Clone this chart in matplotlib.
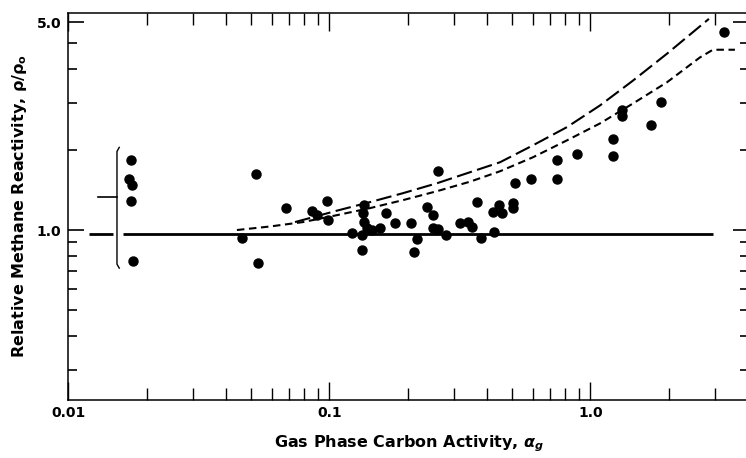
import matplotlib
matplotlib.use("Agg")
import matplotlib.pyplot as plt
from matplotlib.ticker import FixedLocator, FixedFormatter, NullFormatter

plt.rcParams["font.family"] = ["DejaVu Sans"]
plt.rcParams["font.weight"] = "bold"
plt.rcParams["mathtext.fontset"] = "dejavusans"

# measured reactivity vs. gas phase carbon activity
activity = [
    0.0173, 0.0171, 0.01755, 0.0173, 0.0177,
    0.0461, 0.0523, 0.0534, 0.0680, 0.0855, 0.0976, 0.0990, 0.0893,
    0.136, 0.1347, 0.1354, 0.1389, 0.1451, 0.1217, 0.1329, 0.1336,
    0.1562, 0.1642, 0.1782, 0.2047, 0.2159, 0.2108, 0.2358, 0.2485,
    0.2496, 0.2612, 0.2612, 0.2795, 0.3162, 0.3403, 0.3524, 0.3684,
    0.3796, 0.4269, 0.4242, 0.4473, 0.4568, 0.5035, 0.5035, 0.5137,
    0.5916, 0.7424, 0.7424, 0.8901, 1.216, 1.216, 1.317, 1.317,
    1.705, 1.862, 3.247,
]
reactivity = [
    1.824, 1.559, 1.472, 1.283, 0.766,
    0.931, 1.628, 0.755, 1.205, 1.177, 1.286, 1.090, 1.137,
    1.240, 1.154, 1.074, 1.015, 1.000, 0.972, 0.958, 0.842,
    1.015, 1.154, 1.065, 1.059, 0.923, 0.830, 1.215, 1.137,
    1.015, 1.006, 1.665, 0.958, 1.065, 1.074, 1.023, 1.275,
    0.931, 0.985, 1.170, 1.240, 1.154, 1.264, 1.205, 1.501,
    1.559, 1.824, 1.550, 1.921, 2.199, 1.888, 2.821, 2.663,
    2.480, 3.011, 5.495,
]

# model curves (short dash and long dash)
model_a_x = [0.0442, 0.0592, 0.0792, 0.1069, 0.1430, 0.1912, 0.2582, 0.3454,
             0.4502, 0.6021, 0.8128, 1.087, 1.455, 1.964, 2.628, 2.946, 3.578]
model_a_y = [1.0, 1.031, 1.071, 1.137, 1.208, 1.294, 1.398, 1.517,
             1.660, 1.873, 2.167, 2.507, 2.978, 3.576, 4.432, 4.735, 4.735]
model_b_x = [0.0738, 0.1069, 0.1430, 0.1912, 0.2582, 0.3454, 0.4502, 0.6021,
             0.8128, 1.087, 1.455, 1.964, 2.844]
model_b_y = [1.071, 1.182, 1.272, 1.374, 1.497, 1.646, 1.794, 2.076,
             2.429, 2.927, 3.628, 4.575, 6.18]

# unity reference line, split around the bracket
unity_level = 0.97
unity_left = [0.0120, 0.0148]
unity_right = [0.0162, 2.94]

# bracket around the low-activity points and their mean
bracket_x = [0.01565, 0.01534, 0.01534, 0.01565]
bracket_y = [2.04, 1.97, 0.745, 0.72]
bracket_mean = 1.33
bracket_mean_x = [0.01297, 0.01534]

fig = plt.figure(figsize=(7.46, 4.58), dpi=100)
ax = fig.add_axes([0.0918, 0.1277, 0.9122, 0.8439])
ax.set_xscale("log")
ax.set_yscale("log")
ax.set_xlim(0.01, 4.05)
ax.set_ylim(0.2318, 6.5)

ax.plot(unity_left, [unity_level] * 2, color="black", lw=2.0, solid_capstyle="butt")
ax.plot(unity_right, [unity_level] * 2, color="black", lw=2.0, solid_capstyle="butt")
ax.plot(bracket_x, bracket_y, color="black", lw=1.0)
ax.plot(bracket_mean_x, [bracket_mean] * 2, color="black", lw=1.2)

ax.plot(model_a_x, model_a_y, color="black", lw=1.5, linestyle=(0, (3.6, 2.2)))
ax.plot(model_b_x, model_b_y, color="black", lw=1.5, linestyle=(0, (7.5, 2.6)))

ax.plot(activity, reactivity, "o", color="black", ms=6.5, clip_on=False)

# axes decoration
ax.xaxis.set_major_locator(FixedLocator([0.01, 0.1, 1.0]))
ax.xaxis.set_major_formatter(FixedFormatter(["0.01", "0.1", "1.0"]))
ax.xaxis.set_minor_locator(FixedLocator(
    [m * d for d in (0.01, 0.1, 1.0) for m in range(2, 10) if m * d < 4.05]))
ax.xaxis.set_minor_formatter(NullFormatter())

ax.yaxis.set_major_locator(FixedLocator([1.0, 6.0]))
ax.yaxis.set_major_formatter(FixedFormatter(["1.0", "5.0"]))
ax.yaxis.set_minor_locator(FixedLocator(
    [0.3, 0.4, 0.5, 0.6, 0.7, 0.8, 0.9, 2, 3, 4, 5]))
ax.yaxis.set_minor_formatter(NullFormatter())

ax.tick_params(axis="x", which="major", direction="in", length=13, width=1.0,
               top=True, bottom=True, labelsize=10, pad=5)
ax.tick_params(axis="x", which="minor", direction="in", length=8.5, width=1.0,
               top=True, bottom=True)
ax.tick_params(axis="y", which="major", direction="in", length=11.5, width=1.2,
               left=True, right=True, labelsize=10, pad=5)
ax.tick_params(axis="y", which="minor", direction="in", length=6.5, width=1.2,
               left=True, right=True)
for lbl in ax.get_xticklabels() + ax.get_yticklabels():
    lbl.set_fontweight("bold")

for side in ax.spines.values():
    side.set_linewidth(1.1)

ax.set_xlabel(r"Gas Phase Carbon Activity, $\alpha_g$", fontsize=11.5,
              fontweight="bold", labelpad=9)
ax.set_ylabel(r"Relative Methane Reactivity, $\mathrm{\rho/\rho_o}$", fontsize=11.5,
              fontweight="bold", labelpad=6)

fig.savefig("out.png", dpi=100)
